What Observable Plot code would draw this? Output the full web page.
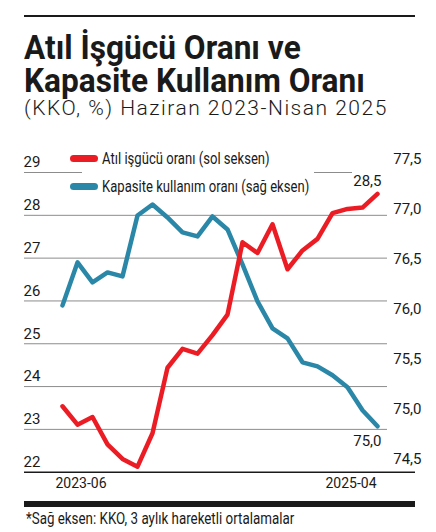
<!DOCTYPE html>
<html>
<head>
<meta charset="utf-8">
<script src="https://cdn.jsdelivr.net/npm/d3@7"></script>
<script src="https://cdn.jsdelivr.net/npm/@observablehq/plot@0.6"></script>
<style>
  body { margin: 0; width: 436px; height: 532px; position: relative; overflow: hidden; background: #fff; color: #1a1a1a;
         font-family: Roboto, "Noto Sans", sans-serif; }
  #rule { position: absolute; left: 24px; top: 15px; width: 391px; height: 1.5px; background: #1a1a1a; }
  .title { position: absolute; left: 24px; font-size: 34px; line-height: 28px; font-weight: bold; white-space: nowrap;
           transform: scaleX(0.93); transform-origin: 0 0; }
  #t1 { top: 33.4px; }
  #t2 { top: 66.4px; }
  #sub { position: absolute; left: 24px; top: 98.8px; font-weight: 300; font-size: 21px; line-height: 18px; letter-spacing: 1.5px; white-space: nowrap; }
  #chart { position: absolute; left: 0; top: 130px; }
  #legend { position: absolute; left: 82px; top: 144px; width: 232px; background: #fff; font-size: 17px; }
  #legend .row { display: flex; align-items: center; height: 28px; white-space: nowrap; }
  #legend .sw { width: 28px; height: 7px; border-radius: 4px; margin-left: -12px; margin-right: 4px; flex: none; }
  #legend .lab { display: inline-block; flex: none; transform: scaleX(0.77); transform-origin: 0 50%; }
  #bar { position: absolute; left: 24px; top: 500.7px; width: 391px; height: 6px; background: #1a1a1a; }
  #note { position: absolute; left: 26px; top: 511.3px; font-size: 16px; line-height: 15px; white-space: nowrap;
          transform: scaleX(0.835); transform-origin: 0 0; }
</style>
</head>
<body>
<div id="rule"></div>
<div class="title" id="t1">Atıl İşgücü Oranı ve</div>
<div class="title" id="t2">Kapasite Kullanım Oranı</div>
<div id="sub">(KKO, %) Haziran 2023-Nisan 2025</div>
<div id="chart"></div>
<div id="legend"></div>
<div id="bar"></div>
<div id="note">*Sağ eksen: KKO, 3 aylık hareketli ortalamalar</div>
<script>
// months shown on the chart (22 points)
const months = ["2023-06", "2023-07", "2023-08", "2023-09", "2023-10", "2023-11", "2023-12",
  "2024-01", "2024-02", "2024-03", "2024-04", "2024-05", "2024-06", "2024-07", "2024-08",
  "2024-09", "2024-10", "2024-11", "2024-12", "2025-01", "2025-02", "2025-03"];

// Atıl işgücü oranı (left axis, %)
const idle = [23.54, 23.11, 23.29, 22.65, 22.31, 22.13, 22.91, 24.44, 24.88, 24.77, 25.2,
  25.68, 27.37, 27.12, 27.79, 26.74, 27.18, 27.45, 28.05, 28.15, 28.18, 28.5];

// Kapasite kullanım oranı, 3-month moving avg (right axis, %)
const kko = [76.17, 76.6, 76.4, 76.5, 76.46, 77.07, 77.18, 77.05, 76.9, 76.86, 77.06,
  76.93, 76.58, 76.21, 75.94, 75.84, 75.6, 75.56, 75.47, 75.35, 75.12, 74.96];

const leftTicks = [22, 23, 24, 25, 26, 27, 28, 29];
const rightTicks = [74.5, 75, 75.5, 76, 76.5, 77, 77.5];
const xLabels = ["2023-06", "2025-04"];
const seriesNames = ["Atıl işgücü oranı (sol seksen)", "Kapasite kullanım oranı (sağ eksen)"];
const colors = ["#ec1c24", "#2b87a7"];

// map right axis onto the left axis scale
const toLeft = v => leftTicks[0] + (v - rightTicks[0]) * 7 / 3;
const fromLeft = y => rightTicks[0] + (y - leftTicks[0]) * 3 / 7;
const comma = d => d3.format(".1f")(d).replace(".", ",");

const rows = months.map((m, i) => ({month: m, idle: idle[i], kko: kko[i]}));
const yTop = leftTicks[leftTicks.length - 1];

const chart = Plot.plot({
  width: 436,
  height: 370,
  marginTop: 42,
  marginBottom: 28.3,
  marginLeft: 59.3,
  marginRight: 56.7,
  x: {type: "point", domain: months, padding: 0, axis: null},
  y: {domain: [leftTicks[0], yTop], axis: null},
  style: {fontFamily: "Roboto, sans-serif", fontSize: "15px", color: "#1a1a1a", background: "transparent"},
  marks: [
    Plot.ruleY(leftTicks.filter(t => t > leftTicks[0] && t < yTop), {stroke: "#8c8c8c", strokeWidth: 1, insetLeft: -35.3, insetRight: -7.7}),
    Plot.ruleY([yTop], {stroke: "#8c8c8c", strokeWidth: 1, insetLeft: -35.3, insetRight: 27.3}),
    Plot.ruleY([leftTicks[0]], {stroke: "#1a1a1a", strokeWidth: 1.5, insetLeft: -35.3, insetRight: -35.7}),
    Plot.axisY(leftTicks, {anchor: "left", tickSize: 0, textAnchor: "start", dx: -27.3, dy: -10, label: null, fontSize: 15}),
    Plot.axisY(rightTicks.map(toLeft), {anchor: "right", tickSize: 0, textAnchor: "end", dx: 32.7, dy: -13, label: null,
      tickFormat: d => comma(fromLeft(d)), fontSize: 15}),
    Plot.line(rows, {x: "month", y: d => toLeft(d.kko), stroke: colors[1], strokeWidth: 4.5}),
    Plot.line(rows, {x: "month", y: "idle", stroke: colors[0], strokeWidth: 4.5}),
    Plot.text(rows, Plot.selectLast({x: "month", y: "idle", text: d => comma(d.idle), textAnchor: "end", dx: 4, dy: -13, fontSize: 15})),
    Plot.text(rows, Plot.selectLast({x: "month", y: d => toLeft(d.kko), text: d => comma(d.kko), textAnchor: "end", dx: 4, dy: 15, fontSize: 15})),
    Plot.text([xLabels[0]], {x: () => months[0], text: d => d, frameAnchor: "bottom", textAnchor: "start", dx: -7, dy: 15.3, fontSize: 14}),
    Plot.text([xLabels[1]], {x: () => months[months.length - 1], text: d => d, frameAnchor: "bottom", textAnchor: "end", dx: -1, dy: 15.3, fontSize: 14})
  ]
});
document.getElementById("chart").append(chart);

const legend = document.getElementById("legend");
seriesNames.forEach((name, i) => {
  const row = document.createElement("div");
  row.className = "row";
  row.innerHTML = `<span class="sw" style="background:${colors[i]}"></span><span class="lab">${name}</span>`;
  legend.append(row);
});
</script>
</body>
</html>
